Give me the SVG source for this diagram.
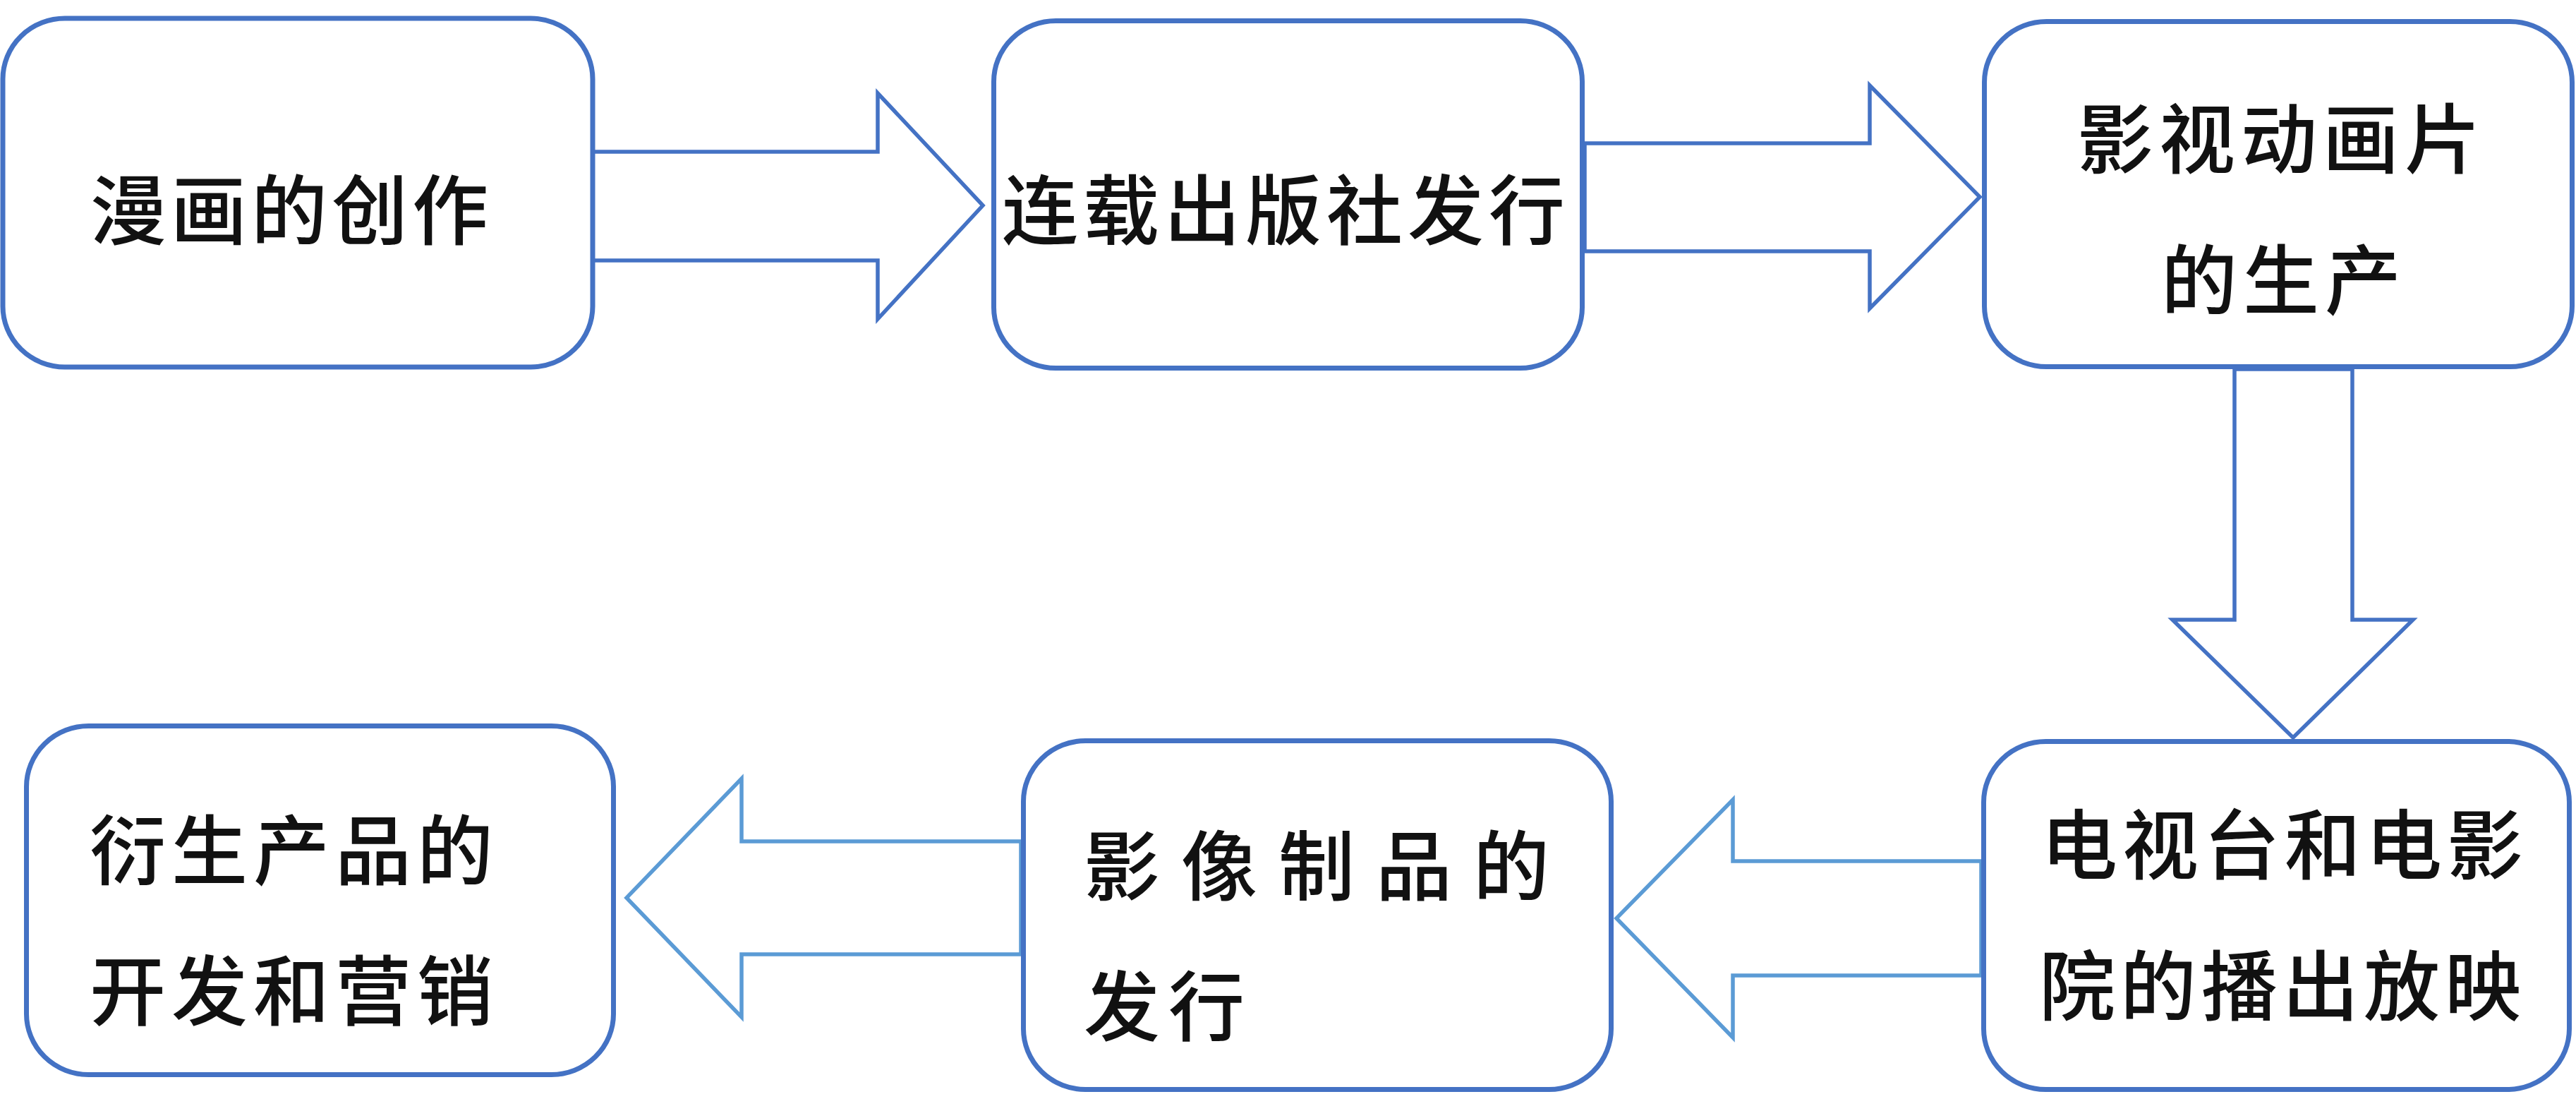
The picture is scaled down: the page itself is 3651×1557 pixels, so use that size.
<svg xmlns="http://www.w3.org/2000/svg" width="3651" height="1557" viewBox="0 0 3651 1557">
<style>
.node{fill:#ffffff;stroke:#4472C4;stroke-width:7}
.arr{fill:none;stroke:#4472C4;stroke-width:5.5;stroke-linejoin:miter}
.arr2{fill:none;stroke:#5B9BD5;stroke-width:5.5;stroke-linejoin:miter}
.t{font-family:"Noto Sans CJK SC","Noto Sans CJK JP",sans-serif;font-size:108px;font-weight:500;fill:#111111}
</style>
<rect width="3651" height="1557" fill="#ffffff"/>
<g id="connectors">
<polygon class="arr" points="840,215 1244,215 1244,132 1393,291 1244,452 1244,369 840,369"/>
<polygon class="arr" points="2246,203 2650,203 2650,121 2806,279 2650,437 2650,356 2246,356"/>
<polygon class="arr" points="3167,523 3167,878 3079,878 3250,1045 3420,878 3334,878 3334,523"/>
<polygon class="arr2" points="2808,1220 2456,1220 2456,1133 2291,1301 2456,1470 2456,1382 2808,1382"/>
<polygon class="arr2" points="1447,1192 1051,1192 1051,1103 888,1272 1051,1441 1051,1352 1447,1352"/>
</g>
<g id="node1">
<rect class="node" x="4" y="26" width="836" height="494" rx="88" ry="86"/>
<text class="t" x="128" y="338" font-size="110" letter-spacing="6">漫画的创作</text>
</g>
<g id="node2">
<rect class="node" x="1408.5" y="29.5" width="834" height="492" rx="88" ry="86"/>
<text class="t" x="1420" y="338" font-size="110" letter-spacing="7">连载出版社发行</text>
</g>
<g id="node3">
<rect class="node" x="2812.5" y="30.5" width="833" height="489" rx="88" ry="86"/>
<text class="t" x="2944" y="237" letter-spacing="8">影视动画片</text>
<text class="t" x="3063" y="437" letter-spacing="8">的生产</text>
</g>
<g id="node4">
<rect class="node" x="2811.5" y="1050.5" width="830" height="493" rx="88" ry="86"/>
<text class="t" x="2893" y="1237" letter-spacing="7">电视台和电影</text>
<text class="t" x="2890" y="1437" letter-spacing="7">院的播出放映</text>
</g>
<g id="node5">
<rect class="node" x="1450.5" y="1049.5" width="833" height="494" rx="88" ry="86"/>
<text class="t" x="1536" y="1267" letter-spacing="30">影像制品的</text>
<text class="t" x="1536" y="1466" letter-spacing="12">发行</text>
</g>
<g id="node6">
<rect class="node" x="37.5" y="1028.5" width="832" height="494" rx="88" ry="86"/>
<text class="t" x="127" y="1245" letter-spacing="8">衍生产品的</text>
<text class="t" x="127" y="1444" letter-spacing="8">开发和营销</text>
</g>
</svg>
